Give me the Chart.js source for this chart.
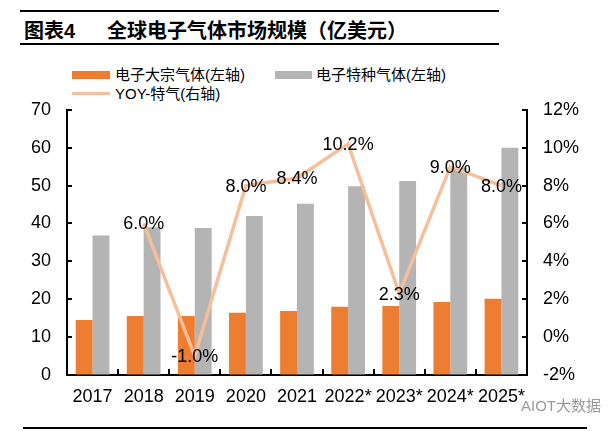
<!DOCTYPE html>
<html>
<head>
<meta charset="utf-8">
<script src="https://cdn.jsdelivr.net/npm/chart.js@4.4.1/dist/chart.umd.min.js"></script>
<style>
  html, body { margin:0; padding:0; background:#fff; }
  body { width:615px; height:431px; position:relative; overflow:hidden; font-family:"Liberation Sans", Arial, "Noto Sans CJK SC", sans-serif; }
  .rule { position:absolute; background:#000; }
  #title { position:absolute; top:17px; left:24px; font-family:"Liberation Sans", Arial, "Noto Sans CJK SC", sans-serif; font-weight:bold; font-size:20px; line-height:28px; color:#000; white-space:nowrap; }
  #title .t2 { position:absolute; left:83px; top:0; }
  .leg { position:absolute; font-size:15px; line-height:18px; color:#000; white-space:nowrap; font-family:"Liberation Sans", Arial, "Noto Sans CJK SC", sans-serif; }
  .sw { position:absolute; }
  #wm { position:absolute; left:521px; top:394px; font-size:15px; color:#9a9a9a; white-space:nowrap; font-family:"Liberation Sans", Arial, "Noto Sans CJK SC", sans-serif; }
  canvas { position:absolute; left:0; top:83px; }
</style>
</head>
<body>
<div class="rule" style="left:20px; top:10px; width:479px; height:2px;"></div>
<div id="title"><span>图表4</span><span class="t2">全球电子气体市场规模（亿美元）</span></div>
<div class="rule" style="left:20px; top:43px; width:479px; height:2px;"></div>

<div class="sw" style="left:72px; top:71px; width:38px; height:8px; background:#ED7D31;"></div>
<div class="leg" style="left:115px; top:66px;">电子大宗气体(左轴)</div>
<div class="sw" style="left:275px; top:71px; width:37px; height:8px; background:#B4B4B4;"></div>
<div class="leg" style="left:316px; top:66px;">电子特种气体(左轴)</div>
<div class="sw" style="left:72px; top:92px; width:38px; height:3px; background:#F6BF9A;"></div>
<div class="leg" style="left:115px; top:85px;">YOY-特气(右轴)</div>

<canvas id="c" width="615" height="327"></canvas>
<div id="wm">AIOT大数据</div>
<div class="rule" style="left:23px; top:427px; width:564px; height:2px;"></div>

<script>
const categories = ['2017','2018','2019','2020','2021','2022*','2023*','2024*','2025*'];
const bulkGas = [14.5, 15.6, 15.6, 16.4, 16.9, 18.0, 18.2, 19.3, 20.1];
const specialtyGas = [36.8, 39.0, 38.8, 42.0, 45.2, 49.8, 51.2, 54.8, 60.0];
const yoySpecialty = [null, 6.0, -1.0, 8.0, 8.4, 10.2, 2.3, 9.0, 8.0];
const leftTicks = [0, 10, 20, 30, 40, 50, 60, 70];
const rightTicks = [-2, 0, 2, 4, 6, 8, 10, 12];

const FONT = { family: '"Liberation Sans", Arial, sans-serif', size: 18 };

const tickMarks = {
  id: 'tickMarks',
  afterDraw(chart) {
    const ctx = chart.ctx;
    const a = chart.chartArea;
    const y = chart.scales.y, y1 = chart.scales.y1, x = chart.scales.x;
    ctx.save();
    ctx.strokeStyle = '#000';
    ctx.lineWidth = 2;
    ctx.beginPath();
    leftTicks.forEach(v => { const p = Math.round(y.getPixelForValue(v)); ctx.moveTo(a.left, p); ctx.lineTo(a.left + 5, p); });
    rightTicks.forEach(v => { const p = Math.round(y1.getPixelForValue(v)); ctx.moveTo(a.right, p); ctx.lineTo(a.right - 5, p); });
    const n = categories.length;
    for (let i = 1; i < n; i++) {
      const p = Math.round((x.getPixelForValue(i - 1) + x.getPixelForValue(i)) / 2);
      ctx.moveTo(p, a.bottom); ctx.lineTo(p, a.bottom - 6);
    }
    ctx.stroke();
    ctx.restore();
  }
};

const pointLabels = {
  id: 'pointLabels',
  afterDatasetsDraw(chart) {
    const ctx = chart.ctx;
    const meta = chart.getDatasetMeta(2);
    ctx.save();
    ctx.fillStyle = '#000';
    ctx.font = '18px "Liberation Sans", Arial, sans-serif';
    ctx.textAlign = 'center';
    ctx.textBaseline = 'middle';
    meta.data.forEach((el, i) => {
      const v = yoySpecialty[i];
      if (v === null) return;
      ctx.fillText(v.toFixed(1) + '%', el.x, el.y + 1);
    });
    ctx.restore();
  }
};

new Chart(document.getElementById('c'), {
  data: {
    labels: categories,
    datasets: [
      { type: 'bar', label: '电子大宗气体(左轴)', data: bulkGas, backgroundColor: '#ED7D31', yAxisID: 'y', order: 2, categoryPercentage: 0.66, barPercentage: 1.0 },
      { type: 'bar', label: '电子特种气体(左轴)', data: specialtyGas, backgroundColor: '#B4B4B4', yAxisID: 'y', order: 2, categoryPercentage: 0.66, barPercentage: 1.0 },
      { type: 'line', label: 'YOY-特气(右轴)', data: yoySpecialty, borderColor: '#F6BF9A', borderWidth: 3.5, pointRadius: 0, tension: 0, yAxisID: 'y1', order: 1 }
    ]
  },
  options: {
    responsive: false,
    animation: false,
    devicePixelRatio: 1,
    layout: { padding: { top: 0, left: 0, right: 0, bottom: 0 } },
    plugins: { legend: { display: false }, tooltip: { enabled: false } },
    scales: {
      x: {
        grid: { display: true, drawOnChartArea: false, drawTicks: false },
        border: { color: '#000', width: 2 },
        ticks: { color: '#000', font: FONT, padding: 11, maxRotation: 0, autoSkip: false },
        afterFit(s) { s.height = 35; }
      },
      y: {
        position: 'left', min: 0, max: 70,
        grid: { display: true, drawOnChartArea: false, drawTicks: false },
        border: { color: '#000', width: 2 },
        ticks: { color: '#000', font: FONT, padding: 16, stepSize: 10 },
        afterBuildTicks(s) { s.ticks = leftTicks.map(v => ({ value: v })); },
        afterFit(s) { s.width = 67; }
      },
      y1: {
        position: 'right', min: -2, max: 12,
        grid: { display: true, drawOnChartArea: false, drawTicks: false },
        border: { color: '#000', width: 2 },
        ticks: { color: '#000', font: FONT, padding: 16, stepSize: 2, callback: v => v + '%' },
        afterBuildTicks(s) { s.ticks = rightTicks.map(v => ({ value: v })); },
        afterFit(s) { s.width = 88; }
      }
    }
  },
  plugins: [tickMarks, pointLabels]
});
</script>
</body>
</html>
